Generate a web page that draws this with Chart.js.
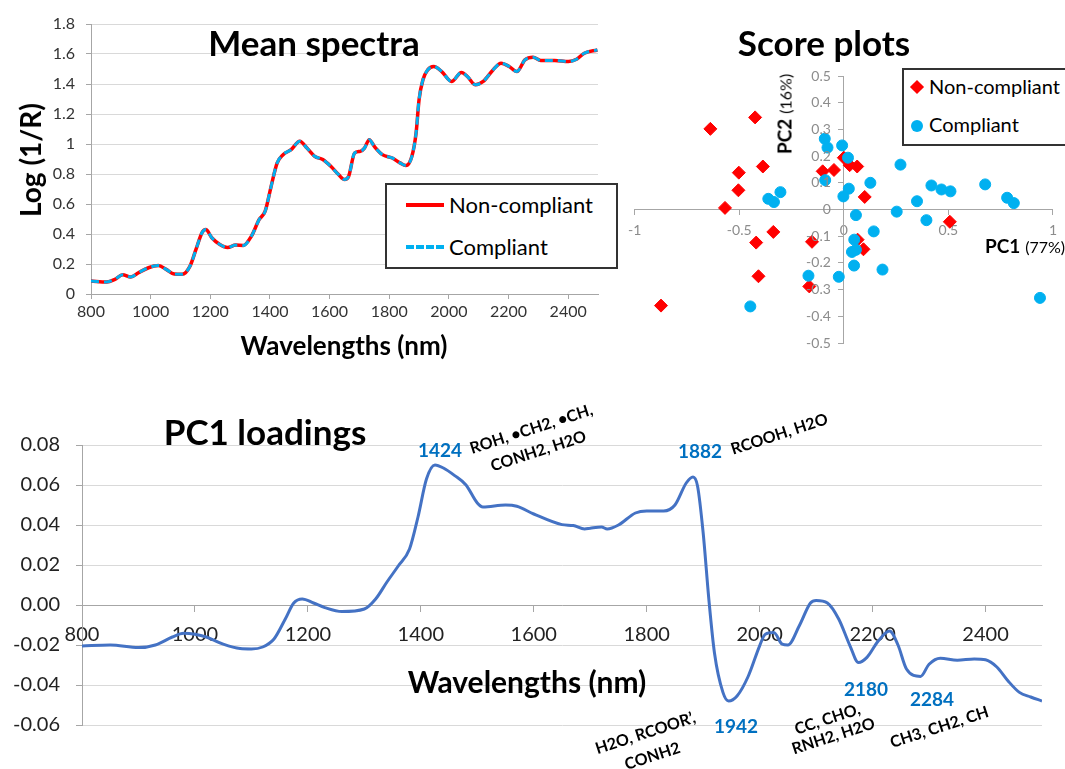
<!DOCTYPE html>
<html>
<head>
<meta charset="utf-8">
<script src="https://cdn.jsdelivr.net/npm/chart.js@4.4.1/dist/chart.umd.min.js"></script>
<style>
  body { margin: 0; background: #fff; width: 1065px; height: 769px; overflow: hidden; position: relative; font-family: Lato, "Open Sans", sans-serif; }
  canvas { position: absolute; }
  .lbl { position: absolute; transform: translate(-50%, -50%); white-space: nowrap; color: #000; z-index: 5; }
  .ttl { font-weight: bold; font-size: 35px; }
  .axt { font-weight: bold; font-size: 26px; }
  .num { color: #0070c0; font-weight: bold; font-size: 19px; }
  .ann { font-weight: bold; font-size: 16px; transform: translate(-50%, -50%) rotate(-18deg); }
  .box { position: absolute; border: 2px solid #333; background: #fff; z-index: 4; }
  .box span { position: absolute; white-space: nowrap; }
</style>
</head>
<body>
<canvas id="spectra" width="620" height="370" style="left:0;top:0"></canvas>
<canvas id="scores" width="445" height="370" style="left:620px;top:0"></canvas>
<canvas id="loadings" width="1065" height="389" style="left:0;top:380px"></canvas>

<!-- titles -->
<div class="lbl ttl" style="left:314px;top:42px">Mean spectra</div>
<div class="lbl axt" style="left:344px;top:345px">Wavelengths (nm)</div>
<div class="lbl axt" style="left:30px;top:160px;font-size:28px;transform:translate(-50%,-50%) rotate(-90deg)">Log (1/R)</div>

<div class="lbl ttl" style="left:824px;top:42px">Score plots</div>
<div class="lbl" style="left:784px;top:114px;transform:translate(-50%,-50%) rotate(-90deg);font-size:19px"><b>PC2</b> <span style="font-size:16px">(16%)</span></div>
<div class="lbl" style="left:1025px;top:245px;font-size:19px"><b>PC1</b> <span style="font-size:16px">(77%)</span></div>

<div class="lbl ttl" style="left:265px;top:431px">PC1 loadings</div>
<div class="lbl axt" style="left:527px;top:681px;font-size:30px">Wavelengths (nm)</div>

<!-- band annotations -->
<div class="lbl num" style="left:440px;top:449px">1424</div>
<div class="lbl ann" style="left:531px;top:428px">ROH, •CH2, •CH,</div>
<div class="lbl ann" style="left:538px;top:450px">CONH2, H2O</div>
<div class="lbl num" style="left:700px;top:450px">1882</div>
<div class="lbl ann" style="left:779px;top:433px">RCOOH, H2O</div>
<div class="lbl num" style="left:736px;top:725px">1942</div>
<div class="lbl ann" style="left:645px;top:732px">H2O, RCOOR’,</div>
<div class="lbl ann" style="left:652px;top:755px">CONH2</div>
<div class="lbl ann" style="left:827px;top:718px">CC, CHO,</div>
<div class="lbl ann" style="left:833px;top:735px">RNH2, H2O</div>
<div class="lbl num" style="left:866px;top:688px">2180</div>
<div class="lbl num" style="left:932px;top:698px">2284</div>
<div class="lbl ann" style="left:939px;top:726px">CH3, CH2, CH</div>

<!-- legends -->
<div class="box" style="left:385px;top:183px;width:229px;height:82px;font-size:22px">
  <span style="left:19px;top:18px;width:38px;border-top:4px solid #ff0000"></span>
  <span style="left:62px;top:6px">Non-compliant</span>
  <span style="left:19px;top:60px;width:38px;border-top:4px dashed #00b0f0"></span>
  <span style="left:62px;top:48px">Compliant</span>
</div>
<div class="box" style="left:902px;top:68px;width:180px;height:74px;font-size:20px">
  <span style="left:8px;top:12px;width:10px;height:10px;background:#ff0000;transform:rotate(45deg)"></span>
  <span style="left:25px;top:4px">Non-compliant</span>
  <span style="left:7px;top:50px;width:12px;height:12px;border-radius:50%;background:#00b0f0"></span>
  <span style="left:25px;top:42px">Compliant</span>
</div>

<script>
// --- Mean spectra ---
const spectraNm = [800, 853, 880, 906, 933, 959, 993, 1026, 1052, 1079, 1106, 1132, 1152, 1172, 1185, 1205, 1232, 1258, 1285, 1311, 1338, 1364, 1384, 1404, 1424, 1444, 1471, 1500, 1524, 1550, 1577, 1604, 1630, 1650, 1664, 1684, 1703, 1717, 1733, 1750, 1777, 1810, 1836, 1856, 1876, 1890, 1900, 1913, 1929, 1949, 1976, 2009, 2042, 2062, 2089, 2115, 2148, 2175, 2202, 2228, 2255, 2282, 2308, 2355, 2401, 2428, 2454, 2498];
const nonCompliant = [0.086, 0.08, 0.098, 0.128, 0.113, 0.142, 0.175, 0.19, 0.164, 0.133, 0.131, 0.186, 0.297, 0.408, 0.43, 0.375, 0.33, 0.31, 0.326, 0.324, 0.386, 0.497, 0.552, 0.718, 0.873, 0.929, 0.962, 1.018, 0.973, 0.918, 0.896, 0.851, 0.796, 0.763, 0.785, 0.94, 0.951, 0.973, 1.029, 0.984, 0.929, 0.907, 0.874, 0.856, 0.918, 1.073, 1.295, 1.428, 1.494, 1.517, 1.483, 1.417, 1.477, 1.45, 1.395, 1.417, 1.494, 1.539, 1.517, 1.483, 1.561, 1.579, 1.557, 1.557, 1.55, 1.565, 1.605, 1.627];
const compliant = [0.086, 0.08, 0.098, 0.128, 0.113, 0.142, 0.175, 0.19, 0.164, 0.133, 0.131, 0.186, 0.297, 0.408, 0.43, 0.375, 0.33, 0.31, 0.326, 0.324, 0.386, 0.497, 0.552, 0.718, 0.873, 0.929, 0.962, 1.018, 0.973, 0.918, 0.896, 0.851, 0.796, 0.763, 0.785, 0.94, 0.951, 0.973, 1.029, 0.984, 0.929, 0.907, 0.874, 0.856, 0.918, 1.073, 1.295, 1.428, 1.494, 1.517, 1.483, 1.417, 1.477, 1.45, 1.395, 1.417, 1.494, 1.539, 1.517, 1.483, 1.561, 1.579, 1.557, 1.557, 1.55, 1.565, 1.605, 1.627];

// --- Score plot (PC1, PC2) ---
const nonCompliantPC1 = [-0.638, -0.424, -0.387, -0.502, -0.504, -0.568, -0.337, -0.419, -0.408, -0.874, -0.152, -0.165, -0.101, -0.047, 0.0, 0.028, 0.064, 0.1, 0.066, 0.094, 0.507];
const nonCompliantPC2 = [0.302, 0.345, 0.161, 0.138, 0.072, 0.006, -0.084, -0.124, -0.25, -0.36, -0.121, -0.288, 0.143, 0.148, 0.194, 0.166, 0.161, 0.047, -0.113, -0.149, -0.046];
const compliantPC1 = [-0.091, -0.078, -0.008, 0.02, -0.089, 0.024, -0.002, 0.127, 0.271, -0.361, -0.334, -0.303, 0.058, 0.143, 0.05, 0.039, 0.058, 0.049, 0.185, -0.169, -0.024, -0.447, 0.253, 0.35, 0.395, 0.419, 0.467, 0.51, 0.676, 0.781, 0.813, 0.938];
const compliantPC2 = [0.265, 0.232, 0.24, 0.194, 0.11, 0.078, 0.049, 0.1, 0.168, 0.04, 0.028, 0.065, -0.021, -0.082, -0.113, -0.159, -0.151, -0.21, -0.225, -0.248, -0.252, -0.363, -0.008, 0.031, -0.04, 0.09, 0.075, 0.068, 0.094, 0.044, 0.024, -0.331];

// --- PC1 loadings ---
const loadingNm = [800, 850, 900, 930, 960, 980, 1000, 1020, 1050, 1080, 1100, 1120, 1140, 1160, 1175, 1190, 1210, 1230, 1260, 1300, 1320, 1340, 1360, 1380, 1395, 1410, 1425, 1440, 1460, 1480, 1500, 1510, 1550, 1570, 1600, 1650, 1670, 1690, 1700, 1720, 1730, 1750, 1780, 1800, 1830, 1850, 1870, 1882, 1890, 1900, 1910, 1920, 1935, 1945, 1960, 1980, 2000, 2010, 2025, 2040, 2050, 2070, 2090, 2100, 2120, 2140, 2160, 2175, 2190, 2210, 2230, 2245, 2260, 2285, 2300, 2320, 2350, 2380, 2400, 2420, 2440, 2460, 2480, 2500];
const loadingPC1 = [-0.0205, -0.02, -0.0213, -0.02, -0.016, -0.0141, -0.0146, -0.016, -0.0196, -0.0218, -0.022, -0.021, -0.017, -0.007, 0.001, 0.003, 0.001, -0.0013, -0.0033, -0.002, 0.003, 0.0115, 0.0195, 0.028, 0.044, 0.063, 0.07, 0.0685, 0.0647, 0.06, 0.051, 0.049, 0.05, 0.0494, 0.0455, 0.0402, 0.0397, 0.038, 0.0384, 0.039, 0.038, 0.04, 0.046, 0.047, 0.047, 0.05, 0.061, 0.064, 0.0595, 0.036, 0.003, -0.024, -0.0437, -0.048, -0.0455, -0.0355, -0.0204, -0.0146, -0.0138, -0.0196, -0.02, -0.0105, 0.001, 0.0023, 0.001, -0.007, -0.0204, -0.0288, -0.0262, -0.018, -0.013, -0.02, -0.032, -0.0357, -0.0296, -0.0266, -0.0276, -0.027, -0.0274, -0.031, -0.038, -0.0437, -0.046, -0.048];

const fontFamily = 'Lato, "Open Sans", sans-serif';
const zip = (xs, ys) => xs.map((x, i) => ({ x: x, y: ys[i] }));
const plain = v => String(+Number(v).toFixed(2));

Chart.defaults.font.family = fontFamily;
Chart.defaults.animation = false;

// score plot y labels sit left of the centred axis, drawn from the y scale's ticks
const scoreYLabels = {
  id: 'scoreYLabels',
  afterDraw(chart) {
    const { ctx, scales: { x, y } } = chart;
    const left = x.getPixelForValue(0) - 13;
    ctx.save();
    ctx.font = '14px ' + fontFamily;
    ctx.fillStyle = '#8c8c8c';
    ctx.textAlign = 'right';
    ctx.textBaseline = 'middle';
    y.ticks.forEach(t => ctx.fillText(plain(t.value), left, y.getPixelForValue(t.value)));
    ctx.restore();
  }
};

// Mean spectra
new Chart(document.getElementById('spectra'), {
  type: 'line',
  data: {
    datasets: [
      { label: 'Compliant', data: zip(spectraNm, compliant), borderColor: '#00b0f0', borderWidth: 3, borderDash: [8, 5], pointRadius: 0, cubicInterpolationMode: 'monotone', order: 0 },
      { label: 'Non-compliant', data: zip(spectraNm, nonCompliant), borderColor: '#ff0000', borderWidth: 3.5, pointRadius: 0, cubicInterpolationMode: 'monotone', order: 1 }
    ]
  },
  options: {
    responsive: false,
    layout: { padding: { top: 24, right: 22, left: 0, bottom: 0 } },
    plugins: { legend: { display: false }, tooltip: { enabled: false } },
    scales: {
      x: {
        type: 'linear', min: 800, max: 2500,
        afterFit: s => { s.height = 76; },
        ticks: { stepSize: 200, includeBounds: false, maxRotation: 0, autoSkip: false, padding: 3, color: '#333', font: { size: 16 }, callback: plain },
        grid: { drawOnChartArea: false, tickLength: 5, tickColor: '#a6a6a6' },
        border: { color: '#a6a6a6' }
      },
      y: {
        min: 0, max: 1.8,
        afterFit: s => { s.width = 91; },
        ticks: { stepSize: 0.2, padding: 11, color: '#333', font: { size: 16 }, callback: plain },
        grid: { color: '#d9d9d9', tickLength: 5, tickColor: '#a6a6a6' },
        border: { color: '#a6a6a6' }
      }
    }
  }
});

// Score plots
new Chart(document.getElementById('scores'), {
  type: 'scatter',
  data: {
    datasets: [
      { label: 'Compliant', data: zip(compliantPC1, compliantPC2), backgroundColor: '#00b0f0', borderColor: '#00b0f0', pointStyle: 'circle', pointRadius: 5.5, order: 0 },
      { label: 'Non-compliant', data: zip(nonCompliantPC1, nonCompliantPC2), backgroundColor: '#ff0000', borderColor: '#ff0000', pointStyle: 'rectRot', pointRadius: 6.5, order: 1 }
    ]
  },
  options: {
    responsive: false,
    layout: { padding: { left: 10, right: 10, top: 76, bottom: 27 } },
    plugins: { legend: { display: false }, tooltip: { enabled: false } },
    scales: {
      x: {
        type: 'linear', min: -1, max: 1, position: { y: 0 },
        ticks: { stepSize: 0.5, padding: 8, color: '#8c8c8c', font: { size: 14 }, callback: plain },
        grid: { drawOnChartArea: false, tickLength: 5, tickColor: '#a6a6a6' },
        border: { color: '#a6a6a6' }
      },
      y: {
        min: -0.5, max: 0.5, position: { x: 0 },
        ticks: { stepSize: 0.1, display: false },
        grid: { drawOnChartArea: false, tickLength: 5, tickColor: '#a6a6a6' },
        border: { color: '#a6a6a6' }
      }
    }
  },
  plugins: [scoreYLabels]
});

// PC1 loadings
new Chart(document.getElementById('loadings'), {
  type: 'line',
  data: {
    datasets: [
      { label: 'PC1', data: zip(loadingNm, loadingPC1), borderColor: '#4472c4', borderWidth: 3, pointRadius: 0, cubicInterpolationMode: 'monotone' }
    ]
  },
  options: {
    responsive: false,
    layout: { padding: { top: 65, right: 23, left: 0, bottom: 44 } },
    plugins: { legend: { display: false }, tooltip: { enabled: false } },
    scales: {
      x: {
        type: 'linear', min: 800, max: 2500, position: { y: 0 },
        ticks: { stepSize: 200, includeBounds: false, maxRotation: 0, autoSkip: false, padding: 12, color: '#222', font: { size: 20 }, callback: plain },
        grid: { drawOnChartArea: false, tickLength: 6, tickColor: '#a6a6a6' },
        border: { color: '#a6a6a6' }
      },
      y: {
        min: -0.06, max: 0.08,
        afterFit: s => { s.width = 82; },
        ticks: { stepSize: 0.02, padding: 16, color: '#222', font: { size: 20 }, callback: v => v.toFixed(2) },
        grid: { color: '#d9d9d9', tickLength: 6, tickColor: '#a6a6a6' },
        border: { color: '#a6a6a6' }
      }
    }
  }
});
</script>
</body>
</html>
